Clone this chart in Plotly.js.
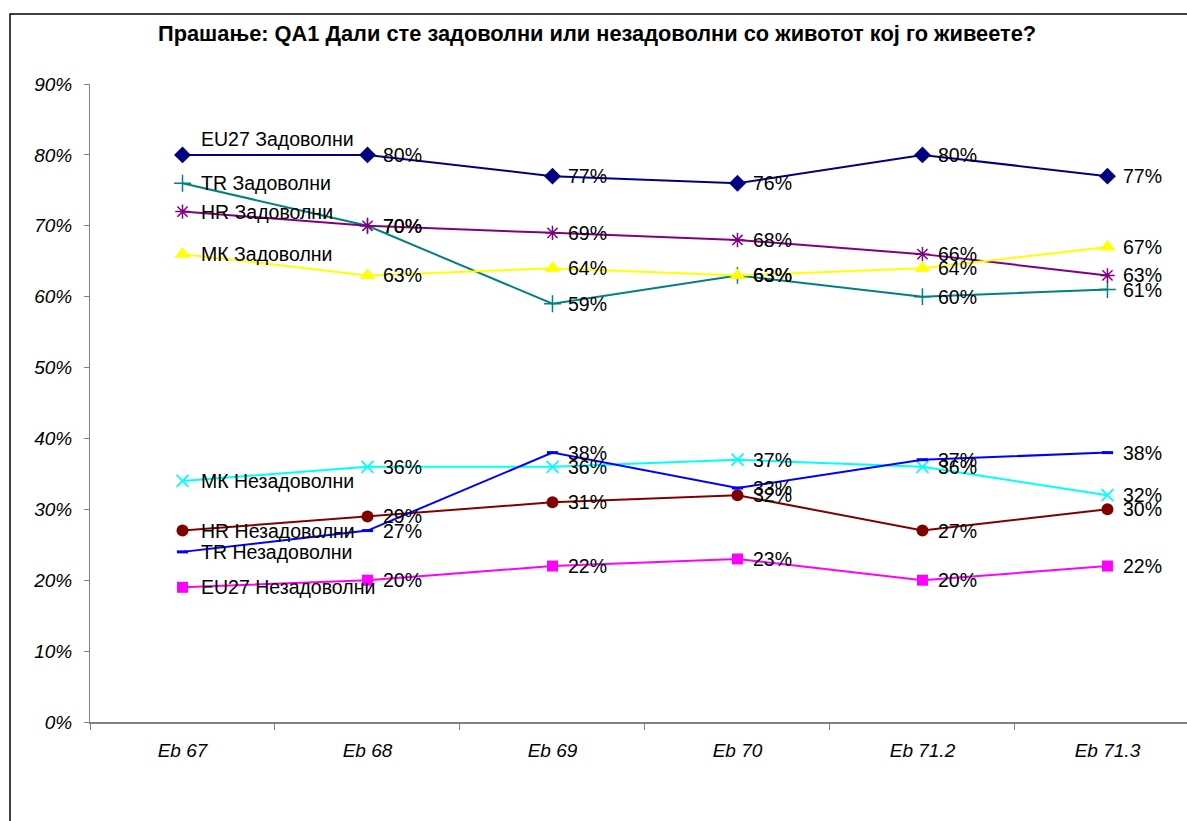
<!DOCTYPE html>
<html>
<head>
<meta charset="utf-8">
<script src="https://cdn.plot.ly/plotly-3.0.1.min.js"></script>
<style>html,body{margin:0;padding:0;background:#fff;}#chart{width:1187px;height:821px;}</style>
</head>
<body>
<div id="chart"></div>
<script>
const categories = ['Eb 67', 'Eb 68', 'Eb 69', 'Eb 70', 'Eb 71.2', 'Eb 71.3'];
const chartTitle = 'Прашање: QA1 Дали сте задоволни или незадоволни со животот кој го живеете?';

const seriesNames = ['EU27 Задоволни', 'TR Задоволни', 'HR Задоволни', 'МК Задоволни',
                     'МК Незадоволни', 'HR Незадоволни', 'TR Незадоволни', 'EU27 Незадоволни'];
const eu27Sat   = [80, 80, 77, 76, 80, 77];
const trSat     = [76, 70, 59, 63, 60, 61];
const hrSat     = [72, 70, 69, 68, 66, 63];
const mkSat     = [66, 63, 64, 63, 64, 67];
const mkDissat  = [34, 36, 36, 37, 36, 32];
const hrDissat  = [27, 29, 31, 32, 27, 30];
const trDissat  = [24, 27, 38, 33, 37, 38];
const eu27Dissat= [19, 20, 22, 23, 20, 22];
const yTicks = [0, 10, 20, 30, 40, 50, 60, 70, 80, 90];

const seriesValues = [eu27Sat, trSat, hrSat, mkSat, mkDissat, hrDissat, trDissat, eu27Dissat];
const styles = [
  {color:'#000080', symbol:'diamond', size:13, lw:0},
  {color:'#008080', symbol:'cross-thin-open', size:12, lw:1.5},
  {color:'#800080', symbol:'asterisk-open', size:12, lw:1.5},
  {color:'#FFFF00', symbol:'triangle-up', size:14, lw:0},
  {color:'#00FFFF', symbol:'x-thin-open', size:12, lw:1.8},
  {color:'#800000', symbol:'circle', size:12, lw:0},
  {color:'#0000FF', symbol:'line-ew-open', size:8, lw:3},
  {color:'#FF00FF', symbol:'square', size:11, lw:0}
];
const nameYShift = [16, 0, 0, 0, 0, 0, 0, 0];

const FONT = 'Arial, "Liberation Sans", sans-serif';

const traces = seriesValues.map((vals, i) => ({
  type: 'scatter', mode: 'lines+markers', name: seriesNames[i],
  x: categories, y: vals,
  line: {color: styles[i].color, width: 2},
  marker: {color: styles[i].color, symbol: styles[i].symbol, size: styles[i].size,
           line: {color: styles[i].color, width: styles[i].lw}},
  hoverinfo: 'skip'
}));

const annotations = [];
seriesValues.forEach((vals, i) => {
  vals.forEach((v, j) => {
    annotations.push({
      x: categories[j], y: v, xref: 'x', yref: 'y',
      text: j === 0 ? seriesNames[i] : v + '%',
      showarrow: false, xanchor: 'left', yanchor: 'middle',
      xshift: j === 0 ? 16 : 14, yshift: j === 0 ? nameYShift[i] : 0,
      font: {family: FONT, size: 19.5, color: '#000'}
    });
  });
});

const layout = {
  width: 1187, height: 821,
  margin: {l: 90, r: 0, t: 84, b: 99},
  paper_bgcolor: '#fff', plot_bgcolor: '#fff',
  showlegend: false,
  title: {text: chartTitle, x: 0.503, xref: 'container', xanchor: 'center',
          y: 1 - 33/821, yref: 'container', yanchor: 'middle',
          font: {family: FONT, size: 21.8, weight: 'bold', color: '#000'}},
  xaxis: {type: 'category', categoryorder: 'array', categoryarray: categories,
          range: [-0.5, 5.43], showgrid: false, zeroline: false,
          showline: true, linecolor: '#808080', linewidth: 2,
          ticks: 'outside', tickson: 'boundaries', ticklen: 6, tickcolor: '#808080',
          tickfont: {family: FONT, size: 19, style: 'italic', color: '#000'},
          ticklabelstandoff: 10, fixedrange: true},
  yaxis: {range: [0, 90], tickvals: yTicks, ticktext: yTicks.map(t => t + '%'),
          showgrid: false, zeroline: false, showline: true, linecolor: '#808080', linewidth: 1,
          ticks: 'outside', ticklen: 5, tickcolor: '#808080',
          tickfont: {family: FONT, size: 19, style: 'italic', color: '#000'},
          ticklabelstandoff: 8, fixedrange: true},
  shapes: [
    {type: 'rect', xref: 'paper', yref: 'paper',
     x0: (10 - 90) / 1097, x1: 1.05, y0: -0.3, y1: (722 - 14) / 638,
     line: {color: '#000', width: 1.5}, fillcolor: 'rgba(0,0,0,0)', layer: 'below'}
  ],
  annotations: annotations
};

Plotly.newPlot('chart', traces, layout, {displayModeBar: false, staticPlot: true});
</script>
</body>
</html>
